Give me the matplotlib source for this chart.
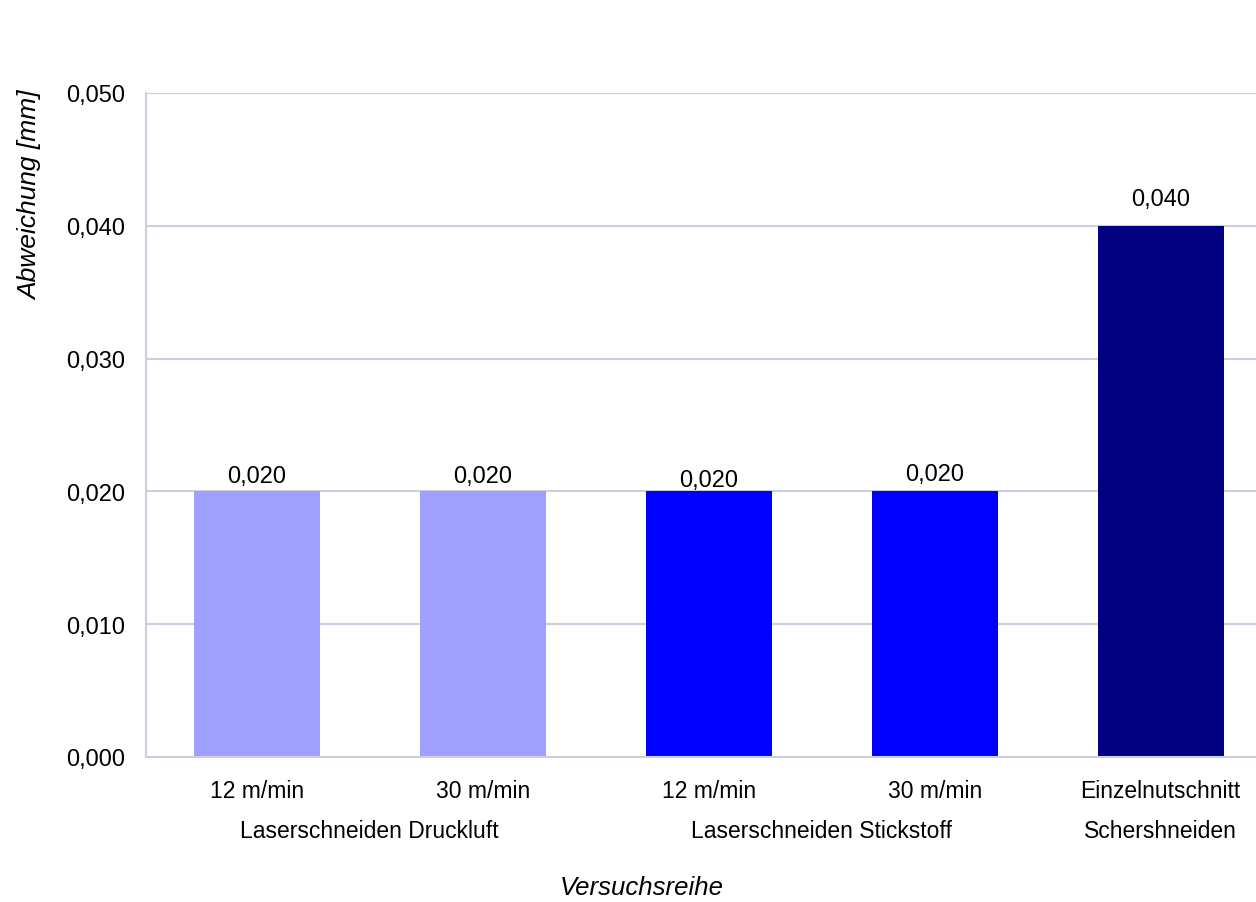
import matplotlib.pyplot as plt

plt.rcParams['font.family'] = ['Liberation Sans', 'DejaVu Sans']

# Messwerte: Abweichung je Versuchsreihe
speeds = ["12 m/min", "30 m/min", "12 m/min", "30 m/min", "Einzelnutschnitt"]
values = [0.020, 0.020, 0.020, 0.020, 0.040]
colors = ["#a0a0ff", "#a0a0ff", "#0000ff", "#0000ff", "#000080"]
groups = ["Laserschneiden Druckluft", "Laserschneiden Stickstoff", "Schershneiden"]
group_pos = [0.5, 2.5, 4.0]
yticks = [0.0, 0.01, 0.02, 0.03, 0.04, 0.05]

grid_c = "#d0cde0"

fig = plt.figure(figsize=(12.56, 9.03), dpi=100)
ax = fig.add_axes([146 / 1256, 145 / 903, 1130 / 1256, 664 / 903])

x = list(range(len(values)))
bars = ax.bar(x, values, width=0.557, color=colors, zorder=2)

ax.set_xlim(-0.49, 4.51)
ax.set_ylim(0, 0.05)
ax.set_yticks(yticks)
ax.set_yticklabels([f"{v:.3f}".replace(".", ",") for v in yticks], fontsize=17)
ax.yaxis.grid(True, color=grid_c, lw=1.5, zorder=0)
ax.tick_params(axis='y', length=0, pad=15)
ax.tick_params(axis='x', length=0, pad=16)
ax.set_xticks(x)
ax.set_xticklabels(speeds, fontsize=16.5)

for s in ["top", "right"]:
    ax.spines[s].set_visible(False)
for s in ["left", "bottom"]:
    ax.spines[s].set_color(grid_c)
    ax.spines[s].set_linewidth(1.5)

# Wertbeschriftungen über den Balken
label_gap = [3, 3, 0, 4.5, 11.5]
for b, v, g in zip(bars, values, label_gap):
    ax.annotate(f"{v:.3f}".replace(".", ","), (b.get_x() + b.get_width() / 2, v),
                xytext=(0, g), textcoords="offset points",
                ha="center", va="bottom", fontsize=17)

# Gruppenbezeichnungen unter den Kategorien
for gp, gname in zip(group_pos, groups):
    ax.annotate(gname, (gp, 0), xytext=(0, -53), textcoords="offset points",
                ha="center", va="center", fontsize=16.5, annotation_clip=False)

fig.text(642 / 1256, 1 - 888 / 903, "Versuchsreihe", ha="center", va="center",
         fontsize=18.5, style="italic")
fig.text(30 / 1256, 1 - 195 / 903, "Abweichung [mm]", ha="center", va="center",
         rotation=90, fontsize=19, style="italic")

fig.savefig("out.png", dpi=100)
